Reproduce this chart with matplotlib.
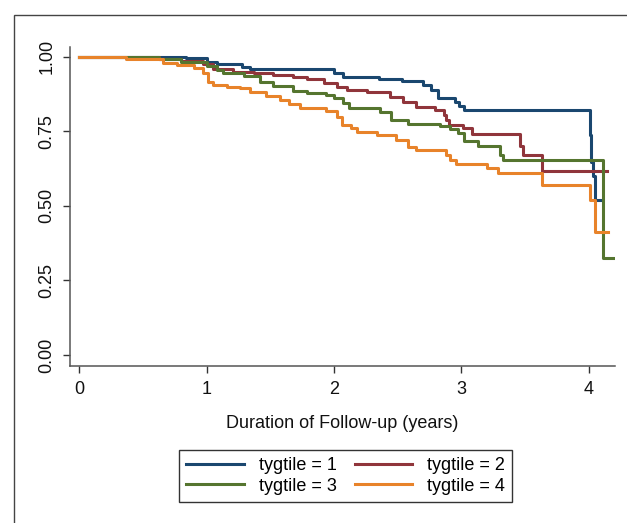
import matplotlib.pyplot as plt
from matplotlib.patches import Rectangle

plt.rcParams['font.family'] = ['Liberation Sans', 'DejaVu Sans']

# Kaplan-Meier step estimates (time in years, survival)
t1 = [0, 0.84, 1.0, 1.08, 1.275, 1.34, 2.0, 2.07, 2.35, 2.53, 2.7, 2.76, 2.82, 2.95, 2.98, 3.02, 4.01, 4.02, 4.035, 4.05, 4.1]
s1 = [1.0, 0.995, 0.983, 0.976, 0.966, 0.958, 0.944, 0.931, 0.924, 0.918, 0.905, 0.89, 0.863, 0.849, 0.835, 0.821, 0.738, 0.648, 0.60, 0.52, 0.52]

t2 = [0, 0.63, 0.8, 0.97, 1.05, 1.21, 1.37, 1.52, 1.68, 1.79, 1.92, 2.02, 2.1, 2.26, 2.44, 2.54, 2.64, 2.79, 2.86, 2.88, 2.9, 3.01, 3.08, 3.46, 3.48, 3.63, 4.14]
s2 = [1.0, 0.994, 0.987, 0.976, 0.958, 0.95, 0.944, 0.939, 0.933, 0.924, 0.913, 0.899, 0.888, 0.883, 0.866, 0.849, 0.832, 0.821, 0.805, 0.788, 0.771, 0.76, 0.74, 0.70, 0.67, 0.617, 0.617]

t3 = [0, 0.63, 0.8, 1.0, 1.08, 1.13, 1.29, 1.42, 1.52, 1.68, 1.79, 1.94, 2.0, 2.07, 2.12, 2.36, 2.45, 2.58, 2.83, 2.91, 2.97, 3.02, 3.13, 3.30, 3.33, 4.11, 4.21]
s3 = [1.0, 0.991, 0.983, 0.969, 0.955, 0.944, 0.935, 0.916, 0.902, 0.886, 0.877, 0.872, 0.861, 0.845, 0.827, 0.816, 0.788, 0.774, 0.768, 0.757, 0.743, 0.717, 0.70, 0.67, 0.654, 0.324, 0.324]

t4 = [0, 0.37, 0.61, 0.66, 0.765, 0.9, 0.97, 1.01, 1.05, 1.16, 1.26, 1.34, 1.47, 1.58, 1.65, 1.73, 1.94, 2.02, 2.06, 2.13, 2.18, 2.34, 2.49, 2.58, 2.64, 2.88, 2.91, 2.96, 3.2, 3.29, 3.63, 4.01, 4.05, 4.15]
s4 = [1.0, 0.994, 0.991, 0.978, 0.972, 0.961, 0.944, 0.916, 0.905, 0.899, 0.894, 0.883, 0.868, 0.855, 0.840, 0.827, 0.819, 0.799, 0.771, 0.762, 0.749, 0.737, 0.721, 0.698, 0.687, 0.67, 0.654, 0.640, 0.626, 0.609, 0.57, 0.52, 0.413, 0.413]

labels = ['tygtile = 1', 'tygtile = 2', 'tygtile = 3', 'tygtile = 4']
colors = ['#1a476f', '#90353b', '#55752f', '#e8832a']

fig = plt.figure(figsize=(6.27, 5.23), dpi=100)
fig.patch.set_facecolor('white')
ax = fig.add_axes([0.111, 0.300, 0.870, 0.610])

lines = []
for t, s, c, lab in zip([t1, t2, t3, t4], [s1, s2, s3, s4], colors, labels):
    ln, = ax.step(t, s, where='post', color=c, lw=2.2, label=lab)
    lines.append(ln)

ax.set_xlim(-0.075, 4.206)
ax.set_ylim(-0.037, 1.0325)
ax.set_xticks([0, 1, 2, 3, 4])
ax.set_yticks([0, 0.25, 0.5, 0.75, 1.0])
ax.set_yticklabels(['0.00', '0.25', '0.50', '0.75', '1.00'], rotation=90, va='center')
ax.tick_params(colors='#333333', labelcolor='#111111', labelsize=13, length=5, width=1)
ax.tick_params(axis='y', pad=5)
ax.tick_params(axis='x', pad=6)
for side in ['top', 'right']:
    ax.spines[side].set_visible(False)
for side in ['left', 'bottom']:
    ax.spines[side].set_color('#555555')
    ax.spines[side].set_linewidth(1.1)
ax.set_xlabel('Duration of Follow-up (years)', fontsize=13, color='#111111', labelpad=12)

# row-wise legend order: 1 2 / 3 4
order = [0, 2, 1, 3]
leg = fig.legend([lines[i] for i in order], [labels[i] for i in order],
                 loc='center', bbox_to_anchor=(0.551, 0.090), ncol=2,
                 fontsize=13, handlelength=3.2, columnspacing=1.0,
                 labelspacing=0.2, borderpad=0.4, fancybox=False,
                 edgecolor='#333333', framealpha=1)
leg.get_frame().set_linewidth(1.0)
for h in leg.get_lines():
    h.set_linewidth(2.2)

# outer graph-region frame (partly cropped in the reference)
fig.add_artist(Rectangle((14 / 627, -0.2), 1.2, 1.2 - 15 / 523, transform=fig.transFigure,
                         fill=False, edgecolor='#444444', lw=1.0))

fig.savefig('out.png', dpi=100)
